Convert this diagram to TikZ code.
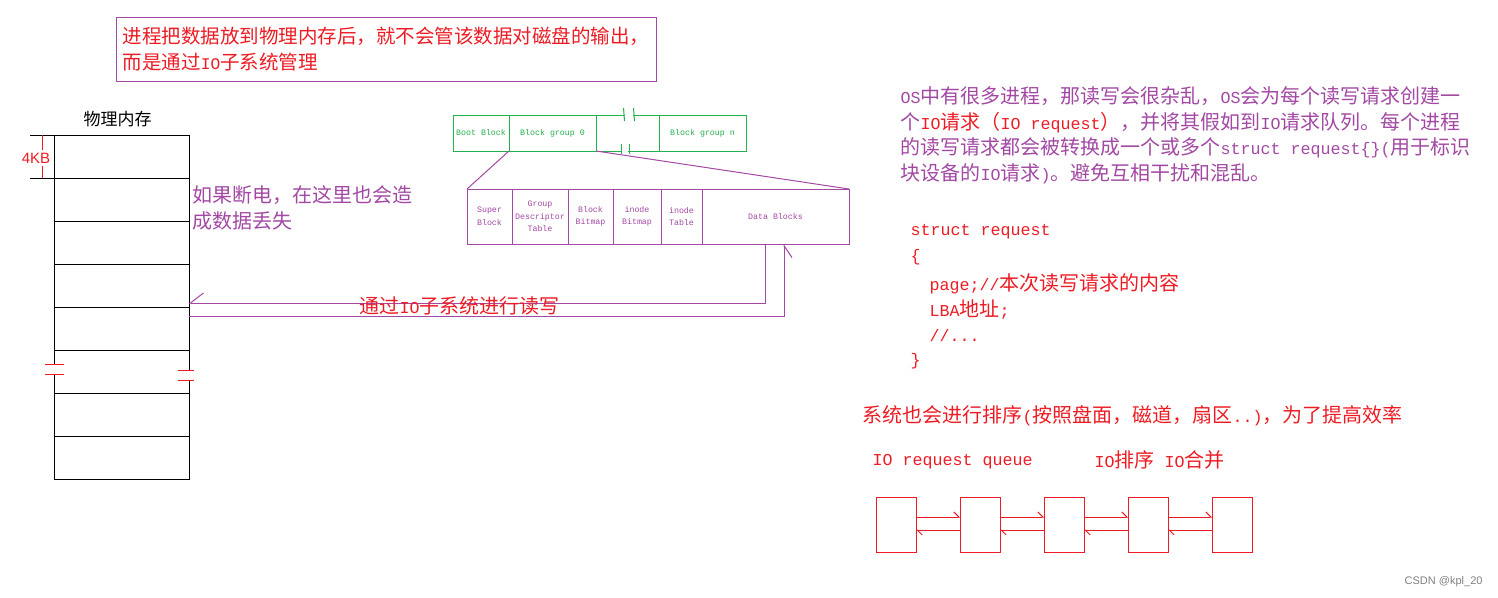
\documentclass[tikz,border=0pt]{standalone}
\usepackage{fontspec}
\usepackage{tikz}
\usetikzlibrary{arrows.meta,positioning}

\newfontfamily\cjk{Noto Sans CJK SC}
\newfontfamily\lmo[Scale=0.8333]{Liberation Mono}
\newfontfamily\monofnt{Liberation Mono}
\newfontfamily\arialfnt{Liberation Sans}
\newcommand{\lat}[1]{{\lmo #1}}

\definecolor{mspurple}{HTML}{A349A4}
\definecolor{msred}{HTML}{ED1C24}
\definecolor{msgreen}{HTML}{22B14C}

\begin{document}
\begin{tikzpicture}[x=1pt,y=-1pt,line width=1pt,
	txt/.style={inner sep=0pt,anchor=west,font=\cjk\fontsize{20}{20}\selectfont},
	cell/.style={draw,minimum width=135pt,minimum height=43pt,inner sep=0pt,outer sep=0pt},
	grp/.style={draw=msgreen,minimum height=36pt,inner sep=0pt,outer sep=0pt,text=msgreen,font=\monofnt\fontsize{8.3}{10}\selectfont},
	part/.style={draw=mspurple,minimum height=55pt,inner sep=0pt,outer sep=0pt,text=mspurple,align=center,font=\monofnt\fontsize{8.3}{12.5}\selectfont},
	qbox/.style={draw=msred,minimum width=40pt,minimum height=55pt,inner sep=0pt,outer sep=0pt},
	qarrow/.style={msred,-{Straight Barb[harpoon,length=5pt,width=10pt]}}]
		\fill[white] (0,0) rectangle (1498,597);
		
		% note at the top
		\node[draw=mspurple,text=msred,minimum width=540pt,minimum height=64pt,anchor=north west,align=left,inner sep=0pt,outer sep=0pt,font=\cjk\fontsize{19.5}{26}\selectfont] (note) at (116,17) {进程把数据放到物理内存后，就不会管该数据对磁盘的输出，\\而是通过\lat{IO}子系统管理};
		
		% physical memory
		\node[inner sep=0pt,font=\cjk\fontsize{17}{17}\selectfont] (memtitle) at (117.5,119.5) {物理内存};
		\foreach \i in {0,...,7}
			\node[cell,anchor=north west] (m\i) at (54,{135+43*\i}) {};
		\draw (30,135) -- (m0.north west);
		\draw (30,178) -- (m0.south west);
		\draw[msred] (42.7,135) -- (42.7,150);
		\draw[msred] (42.7,166) -- (42.7,178);
		\node[inner sep=0pt,text=msred,font=\arialfnt\fontsize{15}{15}\selectfont] (kb) at (36,158) {4KB};
		
		\fill[white] (51,364.5) rectangle (57,374.5);
		\fill[white] (186,370) rectangle (192,380);
		\draw[msred] (45,364.5) -- (64,364.5);
		\draw[msred] (45,374.5) -- (64,374.5);
		\draw[msred] (178,370) -- (194,370);
		\draw[msred] (178,380) -- (194,380);
		
		\node[txt,text=mspurple,align=left,font=\cjk\fontsize{20}{26}\selectfont] (loss) at (192,208) {如果断电，在这里也会造\\成数据丢失};
		
		% disk layout
		\node[grp,minimum width=56pt,anchor=north west] (boot) at (453,115) {Boot Block};
		\node[grp,minimum width=87pt,right=0pt of boot] (g0) {Block group 0};
		\node[grp,minimum width=63pt,right=0pt of g0] (gmid) {};
		\node[grp,minimum width=87pt,right=0pt of gmid] (gn) {Block group n};
		\fill[white] (625,113) rectangle (633,117);
		\fill[white] (622,149) rectangle (628,153);
		\draw[msgreen] (623.5,108) -- (624.5,121);
		\draw[msgreen] (633.5,108) -- (634.5,121);
		\draw[msgreen] (621,144) -- (621,154);
		\draw[msgreen] (629,144) -- (629,154);
		
		\node[part,minimum width=45pt,anchor=north west] (sb) at (467,189) {Super\\Block};
		\node[part,minimum width=56pt,right=0pt of sb] (gdt) {Group\\Descriptor\\Table};
		\node[part,minimum width=45pt,right=0pt of gdt] (bb) {Block\\Bitmap};
		\node[part,minimum width=48pt,right=0pt of bb] (ib) {inode\\Bitmap};
		\node[part,minimum width=41pt,right=0pt of ib] (it) {inode\\Table};
		\node[part,minimum width=147pt,right=0pt of it] (db) {Data Blocks};
		\draw[mspurple] (g0.south west) -- (sb.north west);
		\draw[mspurple] (g0.south east) -- (db.north east);
		
		% read and write through the IO subsystem
		\draw[mspurple,-{Straight Barb[harpoon,swap,length=13pt,width=20pt]}] ([xshift=-10.5pt]db.south) |- ([yshift=4pt]m3.south east);
		\draw[mspurple,-{Straight Barb[harpoon,swap,length=12pt,width=16pt]}] ([yshift=-9pt]m4.north east) -| ([xshift=8.5pt]db.south);
		\node[txt,text=msred] (iorw) at (359,306) {通过\lat{IO}子系统进行读写};
		
		% text on the right
		\node[txt,text=mspurple,align=left,font=\cjk\fontsize{20}{25.5}\selectfont] (os) at (900,135.25) {\lat{OS}中有很多进程，那读写会很杂乱，\lat{OS}会为每个读写请求创建一\\个\textcolor{msred}{\lat{IO}请求（\lat{IO request}）}，并将其假如到\lat{IO}请求队列。每个进程\\的读写请求都会被转换成一个或多个\lat{struct request\{\}(}用于标识\\块设备的\lat{IO}请求\lat{)}。避免互相干扰和混乱。};
		
		\node[txt,text=msred] (c1) at (910,232) {\lat{struct request}};
		\node[txt,text=msred] (c2) at (910,257) {\lat{\{}};
		\node[txt,text=msred] (c3) at (929,284) {\lat{page;//}本次读写请求的内容};
		\node[txt,text=msred] (c4) at (929,310) {\lat{LBA}地址\lat{;}};
		\node[txt,text=msred] (c5) at (929,336) {\lat{//...}};
		\node[txt,text=msred] (c6) at (910,361) {\lat{\}}};
		
		\node[txt,text=msred] (sort) at (862,416) {系统也会进行排序\lat{(}按照盘面，磁道，扇区\lat{..)}，为了提高效率};
		
		% request queue
		\node[txt,text=msred] (qlabel) at (872,462) {\lat{IO request queue}};
		\node[txt,text=msred] (merge) at (1094,460) {\lat{IO}排序\lat{ IO}合并};
		\node[qbox,anchor=north west] (q1) at (876,497) {};
		\foreach \i [count=\j from 2] in {1,...,4}
			\node[qbox,right=44pt of q\i] (q\j) {};
		\foreach \i [count=\j from 2] in {1,...,4} {
			\draw[qarrow] ([yshift=7.5pt]q\i.east) -- ([yshift=7.5pt]q\j.west);
			\draw[qarrow] ([yshift=-5.5pt]q\j.west) -- ([yshift=-5.5pt]q\i.east);
		}
		
		\node[inner sep=0pt,anchor=east,text=gray,font=\arialfnt\fontsize{11}{11}\selectfont] (mark) at (1483,582) {CSDN @kpl\_20};
		\end{tikzpicture}
\end{document}
